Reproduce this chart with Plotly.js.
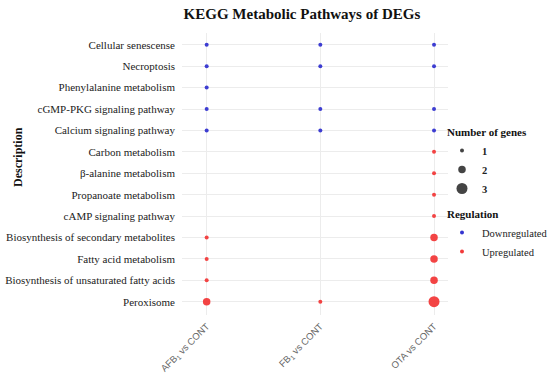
<!DOCTYPE html>
<html>
<head>
<meta charset="utf-8">
<script src="https://cdn.plot.ly/plotly-3.0.1.min.js"></script>
<style>html,body{margin:0;padding:0;background:#fff;}#chart{width:550px;height:375px;}</style>
</head>
<body>
<div id="chart"></div>
<script>
// Pathways, top to bottom as shown
const pathways = [
  "Cellular senescense",
  "Necroptosis",
  "Phenylalanine metabolism",
  "cGMP-PKG signaling pathway",
  "Calcium signaling pathway",
  "Carbon metabolism",
  "β-alanine metabolism",
  "Propanoate metabolism",
  "cAMP signaling pathway",
  "Biosynthesis of secondary metabolites",
  "Fatty acid metabolism",
  "Biosynthesis of unsaturated fatty acids",
  "Peroxisome"
];
const regulation = ["Downregulated","Downregulated","Downregulated","Downregulated","Downregulated",
  "Upregulated","Upregulated","Upregulated","Upregulated","Upregulated","Upregulated","Upregulated","Upregulated"];
const comparisons = ["AFB1 vs CONT", "FB1 vs CONT", "OTA vs CONT"];
const comparisonLabels = ["AFB<sub>1</sub> vs CONT", "FB<sub>1</sub> vs CONT", "OTA vs CONT"];
// Number of genes per pathway (0 = not enriched)
const genesAFB1 = [1,1,1,1,1,0,0,0,0,1,1,1,2];
const genesFB1  = [1,1,0,1,1,0,0,0,0,0,0,0,1];
const genesOTA  = [1,1,0,1,1,1,1,1,1,2,2,2,3];
const geneLevels = [1,2,3];

const colors = {Downregulated: "#3434d0", Upregulated: "#f23a3a"};
function sizeFor(n){ return 4 + 3.5*(n-1); }

const counts = [genesAFB1, genesFB1, genesOTA];
const traces = [];
["Downregulated","Upregulated"].forEach(reg => {
  const xs=[], ys=[], ss=[], txt=[];
  counts.forEach((arr, ci) => {
    arr.forEach((n, pi) => {
      if (n > 0 && regulation[pi] === reg) {
        xs.push(comparisons[ci]); ys.push(pathways[pi]); ss.push(sizeFor(n)); txt.push(n);
      }
    });
  });
  traces.push({
    type: "scatter", mode: "markers", x: xs, y: ys, text: txt,
    marker: {color: colors[reg], size: ss, opacity: 0.95, line: {width: 0}},
    showlegend: false, hovertemplate: "%{y}<br>%{x}<br>Genes: %{text}<extra></extra>"
  });
});

// Legend: number of genes
geneLevels.forEach((n, i) => {
  traces.push({
    type: "scatter", mode: "markers", x: [null], y: [null], name: "<b>" + n + "</b>",
    marker: {color: "#444", size: sizeFor(n), opacity: 1},
    legendgroup: "size", legendrank: i+1,
    legendgrouptitle: i === 0 ? {text: "<b>Number of genes</b>", font: {family: "Liberation Serif", size: 11, color: "#111"}} : undefined,
    showlegend: true, hoverinfo: "skip"
  });
});
["Downregulated","Upregulated"].forEach((reg, i) => {
  traces.push({
    type: "scatter", mode: "markers", x: [null], y: [null], name: reg,
    marker: {color: colors[reg], size: 4, opacity: 1},
    legendgroup: "reg", legendrank: 10+i,
    legendgrouptitle: i === 0 ? {text: "<b>Regulation</b>", font: {family: "Liberation Serif", size: 11, color: "#111"}} : undefined,
    showlegend: true, hoverinfo: "skip"
  });
});

const L = 182, R = 448, T = 33, B = 315;
const layout = {
  width: 550, height: 375,
  margin: {l: L, r: 550 - R, t: T, b: 375 - B, pad: 0, autoexpand: false},
  paper_bgcolor: "#fff", plot_bgcolor: "#fff",
  title: {text: "<b>KEGG Metabolic Pathways of DEGs</b>", x: 0.549, xref: "container", xanchor: "center",
          y: 0.963, yref: "container", yanchor: "middle",
          font: {family: "Liberation Serif", size: 15, color: "#111"}},
  xaxis: {
    type: "category", categoryorder: "array", categoryarray: comparisons,
    tickvals: comparisons, ticktext: comparisonLabels,
    range: [-0.217, 2.123], tickangle: -45, ticklabelstandoff: 3,
    showgrid: true, gridcolor: "#ececec", gridwidth: 1, zeroline: false, showline: false,
    ticks: "", tickfont: {family: "Liberation Sans", size: 9.5, color: "#666"}
  },
  yaxis: {
    type: "category", categoryorder: "array", categoryarray: pathways.slice().reverse(),
    range: [-0.62, 12.55],
    showgrid: true, gridcolor: "#ececec", gridwidth: 1, zeroline: false, showline: false,
    ticks: "", ticklabelstandoff: 6,
    tickfont: {family: "Liberation Serif", size: 11, color: "#222"}
  },
  legend: {
    x: (442 - L) / (R - L), xanchor: "left", y: (B - 117) / (B - T), yanchor: "top",
    font: {family: "Liberation Serif", size: 10.5, color: "#222"},
    itemsizing: "trace", tracegroupgap: 6, bgcolor: "rgba(0,0,0,0)",
    traceorder: "grouped", itemwidth: 30
  },
  annotations: [{
    text: "<b>Description</b>", xref: "paper", yref: "paper",
    x: (18 - L) / (R - L), y: (B - 157) / (B - T), xanchor: "center", yanchor: "middle", textangle: -90,
    showarrow: false, font: {family: "Liberation Serif", size: 12, color: "#111"}
  }],
  showlegend: true
};

Plotly.newPlot("chart", traces, layout, {displayModeBar: false, staticPlot: true});
</script>
</body>
</html>
